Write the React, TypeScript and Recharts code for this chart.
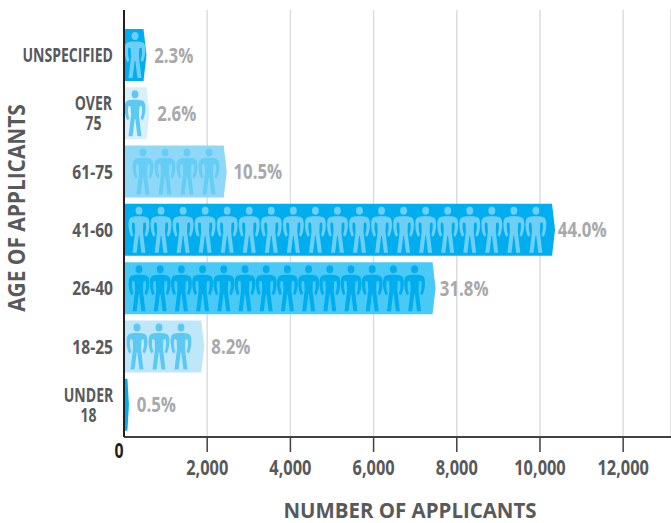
import React from "react";
import { BarChart, Bar, XAxis, YAxis, CartesianGrid, LabelList, Label } from "recharts";

const categories = ["UNSPECIFIED", "OVER 75", "61-75", "41-60", "26-40", "18-25", "UNDER 18"];
const applicants = [541, 612, 2470, 10362, 7490, 1930, 118];
const shares = ["2.3%", "2.6%", "10.5%", "44.0%", "31.8%", "8.2%", "0.5%"];
const peopleCounts = [1, 1, 4, 19, 14, 3, 0];
const xTicks = [0, 2000, 4000, 6000, 8000, 10000, 12000];

const barFills = ["#00aeef", "#d9f0fb", "#8fd8f8", "#00aeef", "#48c9f6", "#bfe7fa", "#00aeef"];
const personFills = ["#6dcff6", "#5cc8f4", "#66cdf6", "#6dcff6", "#00aeef", "#5cc8f4", "#6dcff6"];
const personStart = [11, 11, 19, 15, 15, 13, 0];
const personStep = [0, 0, 22, 22.05, 21.2, 22, 0];

const FONT = "'Open Sans', sans-serif";
const SQUEEZE = 0.72;

const rows = categories.map((category, i) => ({
  category,
  applicants: applicants[i],
  share: shares[i],
  people: peopleCounts[i],
  fill: barFills[i],
  personFill: personFills[i],
  start: personStart[i],
  step: personStep[i],
}));

function Narrow({ x, y, size, fill, anchor = "middle", rotate = 0, squeeze = SQUEEZE, children }: any) {
  return (
    <text
      transform={`translate(${x} ${y}) rotate(${rotate}) scale(${squeeze} 1)`}
      fill={fill}
      fontFamily={FONT}
      fontWeight={700}
      fontSize={size}
      textAnchor={anchor}
    >
      {children}
    </text>
  );
}

const PERSON_PATH =
  "M0 9.5 C4 9.5 8 9.5 10 11 C12 12.5 12.3 16 12 20 C11.7 24 10.5 27.5 9 30 L6.5 28.5 C7.8 25 8.6 21 8 16.5 L7.3 15.5 L5 16.5 L4.6 25 L7.5 46 L2.8 46 L0.4 29 L-0.4 29 L-2.8 46 L-7.5 46 L-4.6 25 L-5 16.5 L-7.3 15.5 L-8 16.5 C-8.6 21 -7.8 25 -6.5 28.5 L-9 30 C-10.5 27.5 -11.7 24 -12 20 C-12.3 16 -12 12.5 -10 11 C-8 9.5 -4 9.5 0 9.5 Z";

function Person({ cx, top, h, fill }: { cx: number; top: number; h: number; fill: string }) {
  const s = h / 46;
  return (
    <g transform={`translate(${cx} ${top}) scale(${s * 0.86} ${s})`} fill={fill}>
      <circle cx={0} cy={4} r={4} />
      <path d={PERSON_PATH} />
    </g>
  );
}

function PeopleBar(props: any) {
  const { x, y, width, height, payload } = props;
  const tip = Math.min(3, width * 0.3);
  const points = [
    [x, y],
    [x + width - tip, y],
    [x + width, y + height / 2],
    [x + width - tip, y + height],
    [x, y + height],
  ]
    .map((p) => p.join(","))
    .join(" ");
  const people = [];
  for (let i = 0; i < payload.people; i++) {
    people.push(
      <Person key={i} cx={x + payload.start + i * payload.step} top={y + 3} h={height - 6} fill={payload.personFill} />
    );
  }
  return (
    <g>
      <polygon points={points} fill={payload.fill} />
      {people}
    </g>
  );
}

function CategoryTick({ y, payload }: any) {
  const value: string = payload.value;
  const parts = value === "OVER 75" || value === "UNDER 18" ? value.split(" ") : [value];
  const lineH = 20;
  const first = y + 7 - ((parts.length - 1) * lineH) / 2;
  const wide = parts[0].length;
  const numeric = /^\d/.test(value);
  return (
    <g>
      {parts.map((p, i) => {
        const cx = parts.length === 1 ? 113 : 113 - (wide * 9.8) / 2;
        return (
          <Narrow
            key={p}
            x={cx}
            y={first + i * lineH}
            size={19.5}
            fill="#58595b"
            anchor={parts.length === 1 ? "end" : "middle"}
            squeeze={numeric ? 0.8 : SQUEEZE}
          >
            {p}
          </Narrow>
        );
      })}
    </g>
  );
}

function ValueTick({ x, payload }: any) {
  if (payload.value === 0) {
    return (
      <Narrow x={119} y={458} size={22} fill="#231f20">
        0
      </Narrow>
    );
  }
  return (
    <g>
      <line x1={x} x2={x} y1={437} y2={452} stroke="#414042" strokeWidth={1.5} />
      <Narrow x={x} y={475} size={21} fill="#58595b" squeeze={0.78}>
        {payload.value.toLocaleString("en-US")}
      </Narrow>
    </g>
  );
}

function ShareLabel({ x, y, width, height, value }: any) {
  const gap = 8 - width * 0.012;
  return (
    <Narrow x={x + width + gap} y={y + height / 2 + 7.5} size={21} fill="#a7a9ac" anchor="start" squeeze={0.8}>
      {value}
    </Narrow>
  );
}

export default function App() {
  return (
    <div style={{ position: "absolute", left: 0, top: 0, width: 671, height: 523, background: "#fff" }}>
      <BarChart
        width={671}
        height={523}
        data={rows}
        layout="vertical"
        barCategoryGap={3}
        margin={{ top: 10, right: 0, bottom: 0, left: 0 }}
      >
        <CartesianGrid horizontal={false} vertical stroke="#dcddde" strokeWidth={1.5} />
        <XAxis
          type="number"
          dataKey="applicants"
          domain={[0, 13150]}
          ticks={xTicks}
          interval={0}
          height={86}
          tick={<ValueTick />}
          tickLine={false}
          axisLine={{ stroke: "#414042", strokeWidth: 2 }}
        >
          <Label
            content={() => (
              <Narrow x={410} y={518} size={22} fill="#58595b" squeeze={0.93}>
                NUMBER OF APPLICANTS
              </Narrow>
            )}
          />
        </XAxis>
        <YAxis
          type="category"
          dataKey="category"
          width={124}
          interval={0}
          padding={{ top: 16, bottom: 3 }}
          tick={<CategoryTick />}
          tickLine={false}
          axisLine={{ stroke: "#231f20", strokeWidth: 2 }}
        >
          <Label
            content={() => (
              <Narrow x={25} y={208} size={24} fill="#58595b" rotate={-90} squeeze={0.87}>
                AGE OF APPLICANTS
              </Narrow>
            )}
          />
        </YAxis>
        <Bar dataKey="applicants" isAnimationActive={false} shape={<PeopleBar />}>
          <LabelList dataKey="share" content={<ShareLabel />} />
        </Bar>
      </BarChart>
    </div>
  );
}
